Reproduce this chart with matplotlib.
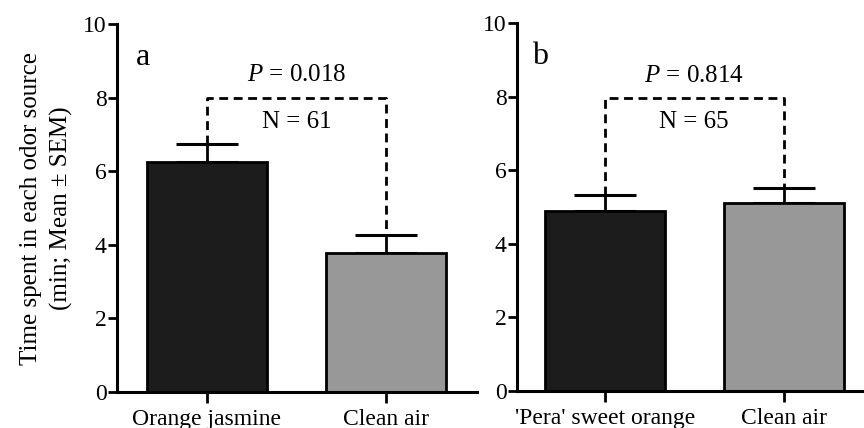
import matplotlib
matplotlib.use("Agg")
import matplotlib.pyplot as plt

plt.rcParams["font.family"] = ["Liberation Serif", "DejaVu Serif"]
plt.rcParams["mathtext.fontset"] = "custom"
plt.rcParams["mathtext.it"] = "Liberation Serif:italic"
plt.rcParams["mathtext.rm"] = "Liberation Serif"

# data
labels_a = ["Orange jasmine", "Clean air"]
means_a = [6.25, 3.78]
sem_a = [0.49, 0.49]
labels_b = ["'Pera' sweet orange", "Clean air"]
means_b = [4.89, 5.11]
sem_b = [0.44, 0.42]
pvals = ["0.018", "0.814"]
nvals = [61, 65]
bracket_y = [8.0, 7.95]
colors = ["#1c1c1c", "#989898"]

fig = plt.figure(figsize=(8.64, 4.28), dpi=100)
ax_a = fig.add_axes([0.1354, 0.0841, 0.4167, 0.8598])
ax_b = fig.add_axes([0.5984, 0.0864, 0.4226, 0.8598])
xlims = [(-0.503, 1.51), (-0.49, 1.55)]


def draw(ax, labels, means, sems, pval, n, by, letter, xlim):
    x = [0, 1]
    ax.bar(x, means, width=0.67, color=colors, edgecolor="black", linewidth=2, zorder=2)
    ax.errorbar(x, means, yerr=[[0, 0], sems], fmt="none", ecolor="black",
                elinewidth=2, capsize=22, capthick=2.2, zorder=1)
    tops = [m + s for m, s in zip(means, sems)]
    ax.plot([0, 0, 1, 1], [tops[0], by, by, tops[1]], color="black",
            linestyle=(0, (3.2, 2)), linewidth=2)
    ax.text(0.5, by + 0.62, "$P$ = " + pval, ha="center", va="center", fontsize=18)
    ax.text(0.5, by - 0.65, "N = %d" % n, ha="center", va="center", fontsize=18)
    ax.text(-0.36, 9.1, letter, ha="center", va="center", fontsize=23)

    ax.set_xlim(*xlim)
    ax.set_ylim(0, 10)
    ax.set_xticks(x)
    ax.set_xticklabels(labels, fontsize=17)
    ax.set_yticks([0, 2, 4, 6, 8, 10])
    ax.tick_params(axis="y", labelsize=17, width=2, length=6.5, pad=1)
    ax.tick_params(axis="x", width=2, length=8, pad=4)
    for s in ["top", "right"]:
        ax.spines[s].set_visible(False)
    for s in ["left", "bottom"]:
        ax.spines[s].set_linewidth(2.2)


draw(ax_a, labels_a, means_a, sem_a, pvals[0], nvals[0], bracket_y[0], "a", xlims[0])
draw(ax_b, labels_b, means_b, sem_b, pvals[1], nvals[1], bracket_y[1], "b", xlims[1])

ax_a.set_ylabel("Time spent in each odor source\n(min; Mean \u00b1 SEM)", fontsize=18,
                linespacing=1.45, labelpad=7)

fig.savefig("out.png", dpi=100)
